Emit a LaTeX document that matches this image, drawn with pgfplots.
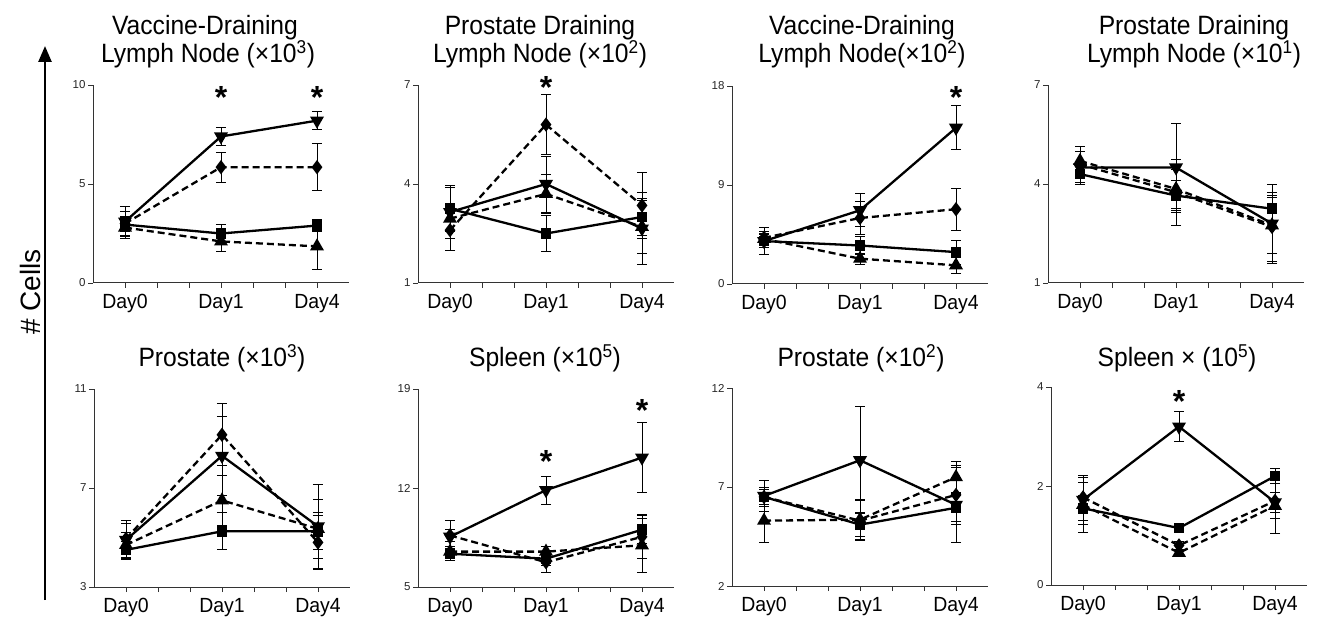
\documentclass[border=0pt]{standalone}
\usepackage{pgfplots}
\pgfplotsset{compat=1.18}
\usepackage{fontspec}
\setmainfont{Liberation Sans}
\usetikzlibrary{arrows.meta}

\tikzset{star/.style={font=\fontsize{32}{32}\selectfont\bfseries, anchor=base, yshift=-18pt},
  ttl/.style={anchor=base, font=\fontsize{26.5}{27}\selectfont, xscale=0.93}}
\pgfplotsset{
  panel/.style={
    scale only axis, width=256pt, height=198pt,
    xmin=-1, xmax=7,
    axis x line=bottom, axis y line=left,
    axis line style={-, line width=1pt, black!80},
    xtick={0,1,2,3,4,5,6},
    xticklabels={Day0,,,Day1,,,Day4},
    tick style={black!80, line width=0.8pt},
    major tick length=5pt,
    tick align=outside,
    xticklabel style={font=\fontsize{20.5}{22}\selectfont, yshift=-3pt, xscale=0.95},
    yticklabel style={font=\fontsize{11.5}{12}\selectfont, black!85, xshift=1pt},
    /pgf/number format/assume math mode=true,
    clip=false,
  },
  errb/.style={error bars/.cd, y dir=both, y explicit,
    error bar style={line width=0.9pt, solid},
    error mark options={rotate=90, mark size=5pt, line width=0.9pt, solid}},
  sq/.style={black, line width=2.3pt, solid, mark=square*, mark size=4.2pt, mark options={solid, fill=black}, errb},
  tu/.style={black, line width=2.3pt, dash pattern=on 7pt off 4pt, mark=triangle*, mark size=5.8pt, mark options={solid, fill=black}, errb},
  td/.style={black, line width=2.3pt, solid, mark=triangle*, mark size=5.8pt, mark options={solid, fill=black, rotate=180}, errb},
  dm/.style={black, line width=2.3pt, dash pattern=on 7pt off 4pt, mark=diamond*, mark size=5.3pt, mark options={solid, fill=black}, errb},
}

\begin{document}
\begin{tikzpicture}
\path[use as bounding box] (0pt,0pt) rectangle (1318pt,-628pt);

% Y label and arrow
\draw[line width=2.5pt, -{Triangle[length=16pt,width=13pt]}] (45pt,-600pt) -- (45pt,-46pt);
\node[rotate=90, font=\fontsize{28}{28}\selectfont, anchor=base] at (40pt,-292pt) {\# Cells};

% Titles
\node[ttl] at (205pt,-35pt) {Vaccine-Draining};
\node[ttl] at (208pt,-63pt) {Lymph Node (×10\textsuperscript{3})};
\node[ttl] at (540pt,-35pt) {Prostate Draining};
\node[ttl] at (540pt,-63pt) {Lymph Node (×10\textsuperscript{2})};
\node[ttl] at (862pt,-35pt) {Vaccine-Draining};
\node[ttl] at (862pt,-63pt) {Lymph Node(×10\textsuperscript{2})};
\node[ttl] at (1194pt,-35pt) {Prostate Draining};
\node[ttl] at (1194pt,-63pt) {Lymph Node (×10\textsuperscript{1})};
\node[ttl] at (222pt,-367pt) {Prostate (×10\textsuperscript{3})};
\node[ttl] at (545pt,-367pt) {Spleen (×10\textsuperscript{5})};
\node[ttl] at (861pt,-367pt) {Prostate (×10\textsuperscript{2})};
\node[ttl] at (1177pt,-367pt) {Spleen × (10\textsuperscript{5})};

% Panel 1
\begin{axis}[panel, at={(93pt,-283pt)}, anchor=south west, ymin=0, ymax=10, ytick={0,5,10}]
\addplot[dm] coordinates {(0,3.0) +- (0,0.6) (3,5.85) +- (0,0.75) (6,5.85) +- (0,1.2)};
\addplot[tu] coordinates {(0,2.8) +- (0,0.55) (3,2.1) +- (0,0.5) (6,1.85) +- (0,1.15)};
\addplot[sq] coordinates {(0,2.95) +- (0,0.35) (3,2.5) +- (0,0.45) (6,2.9) +- (0,0.3)};
\addplot[td] coordinates {(0,3.1) +- (0,0.75) (3,7.4) +- (0,0.45) (6,8.2) +- (0,0.45)};
\node[star] at (axis cs:3,9.7) {*};
\node[star] at (axis cs:6,9.7) {*};
\end{axis}

% Panel 2
\begin{axis}[panel, at={(418pt,-283pt)}, anchor=south west, ymin=1, ymax=7, ytick={1,4,7}]
\addplot[dm] coordinates {(0,2.6) +- (0,0.6) (3,5.8) +- (0,0.9) (6,3.35) +- (0,1.0)};
\addplot[tu] coordinates {(0,2.95) +- (0,0.95) (3,3.7) +- (0,0.6) (6,2.7) +- (0,0.8)};
\addplot[sq] coordinates {(0,3.25) +- (0,0.7) (3,2.5) +- (0,0.55) (6,3.0) +- (0,0.55)};
\addplot[td] coordinates {(0,3.15) +- (0,0.8) (3,4.0) +- (0,0.85) (6,2.65) +- (0,1.1)};
\node[star] at (axis cs:3,7.15) {*};
\end{axis}

% Panel 3
\begin{axis}[panel, at={(732pt,-284pt)}, anchor=south west, ymin=0, ymax=18, ytick={0,9,18}]
\addplot[dm] coordinates {(0,4.2) +- (0,0.6) (3,6.0) +- (0,1.5) (6,6.8) +- (0,1.9)};
\addplot[tu] coordinates {(0,4.1) +- (0,0.5) (3,2.3) +- (0,0.5) (6,1.7) +- (0,0.7)};
\addplot[sq] coordinates {(0,3.9) +- (0,0.6) (3,3.5) +- (0,0.8) (6,2.9) +- (0,1.1)};
\addplot[td] coordinates {(0,3.9) +- (0,1.2) (3,6.7) +- (0,1.5) (6,14.2) +- (0,2.0)};
\node[star] at (axis cs:6,17.6) {*};
\end{axis}

% Panel 4
\begin{axis}[panel, at={(1048pt,-283pt)}, anchor=south west, ymin=1, ymax=7, ytick={1,4,7}]
\addplot[dm] coordinates {(0,4.6) +- (0,0.4) (3,3.75) +- (0,1.0) (6,2.7) +- (0,1.05)};
\addplot[tu] coordinates {(0,4.7) +- (0,0.45) (3,3.85) +- (0,0.6) (6,2.75) +- (0,0.85)};
\addplot[sq] coordinates {(0,4.3) +- (0,0.25) (3,3.65) +- (0,0.45) (6,3.25) +- (0,0.4)};
\addplot[td] coordinates {(0,4.5) +- (0,0.5) (3,4.5) +- (0,1.35) (6,2.8) +- (0,1.2)};
\end{axis}

% Panel 5
\begin{axis}[panel, at={(94pt,-587pt)}, anchor=south west, ymin=3, ymax=11, ytick={3,7,11}]
\addplot[dm] coordinates {(0,4.95) +- (0,0.6) (3,9.15) +- (0,1.25) (6,4.8) +- (0,1.1)};
\addplot[tu] coordinates {(0,4.7) +- (0,0.5) (3,6.5) +- (0,1.0) (6,5.35) +- (0,1.2)};
\addplot[sq] coordinates {(0,4.5) +- (0,0.35) (3,5.25) +- (0,0.75) (6,5.25) +- (0,0.75)};
\addplot[td] coordinates {(0,4.9) +- (0,0.8) (3,8.3) +- (0,1.6) (6,5.45) +- (0,1.7)};
\end{axis}

% Panel 6
\begin{axis}[panel, at={(418pt,-587pt)}, anchor=south west, ymin=5, ymax=19, ytick={5,12,19}]
\addplot[dm] coordinates {(0,8.65) +- (0,0.4) (3,6.75) +- (0,0.75) (6,8.55) +- (0,1.55)};
\addplot[tu] coordinates {(0,7.5) +- (0,0.4) (3,7.5) +- (0,0.35) (6,7.95) +- (0,1.9)};
\addplot[sq] coordinates {(0,7.35) +- (0,0.5) (3,7.0) +- (0,0.5) (6,9.05) +- (0,1.0)};
\addplot[td] coordinates {(0,8.55) +- (0,1.15) (3,11.85) +- (0,1.0) (6,14.15) +- (0,2.45)};
\node[star] at (axis cs:3,14.4) {*};
\node[star] at (axis cs:6,18.0) {*};
\end{axis}

% Panel 7
\begin{axis}[panel, at={(732pt,-586pt)}, anchor=south west, ymin=2, ymax=12, ytick={2,7,12}]
\addplot[dm] coordinates {(0,6.5) +- (0,0.5) (3,5.3) +- (0,1.0) (6,6.6) +- (0,1.5)};
\addplot[tu] coordinates {(0,5.3) +- (0,1.1) (3,5.35) +- (0,1.0) (6,7.5) +- (0,0.8)};
\addplot[sq] coordinates {(0,6.5) +- (0,0.4) (3,5.1) +- (0,0.6) (6,5.95) +- (0,0.7)};
\addplot[td] coordinates {(0,6.55) +- (0,0.8) (3,8.35) +- (0,2.7) (6,6.1) +- (0,1.9)};
\end{axis}

% Panel 8
\begin{axis}[panel, at={(1051pt,-585pt)}, anchor=south west, ymin=0, ymax=4, ytick={0,2,4}]
\addplot[dm] coordinates {(0,1.77) +- (0,0.3) (3,0.8) +- (0,0.08) (6,1.7) +- (0,0.35)};
\addplot[tu] coordinates {(0,1.62) +- (0,0.55) (3,0.65) +- (0,0.07) (6,1.6) +- (0,0.55)};
\addplot[sq] coordinates {(0,1.55) +- (0,0.25) (3,1.15) +- (0,0.05) (6,2.2) +- (0,0.15)};
\addplot[td] coordinates {(0,1.72) +- (0,0.5) (3,3.2) +- (0,0.3) (6,1.67) +- (0,0.2)};
\node[star] at (axis cs:3,3.85) {*};
\end{axis}
\end{tikzpicture}
\end{document}
